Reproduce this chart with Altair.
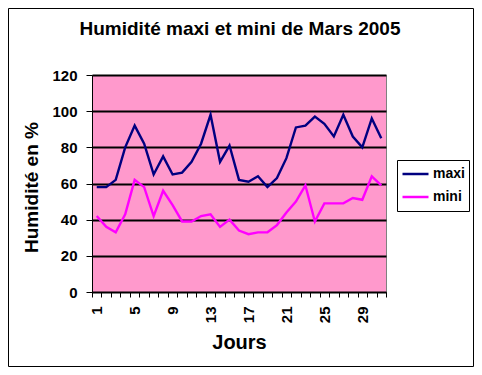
import altair as alt
import pandas as pd

jours = list(range(1, 32))
maxi = [58, 58, 62, 80, 92, 82, 65, 75, 65, 66, 72, 82, 98, 72, 81, 62,
        61, 64, 58, 63, 74, 91, 92, 97, 93, 86, 98, 86, 80, 96, 85]
mini = [42, 36, 33, 43, 62, 58, 42, 56, 48, 39, 39, 42, 43, 36, 40, 34,
        32, 33, 33, 37, 44, 50, 59, 39, 49, 49, 49, 52, 51, 64, 59]
series = ["maxi", "mini"]
colors = ["#000080", "#FF00FF"]
titre = ["Humidité maxi et mini de Mars 2005"]

df = pd.DataFrame({
    "jour": jours * 2,
    "val": maxi + mini,
    "serie": ["maxi"] * len(jours) + ["mini"] * len(jours),
})

FONT = "Liberation Sans"
W, H = 294, 217

lines = alt.Chart(df).mark_line(strokeWidth=2.4).encode(
    x=alt.X("jour:O", bandPosition=0.5,
            scale=alt.Scale(type="band", paddingInner=0, paddingOuter=0),
            axis=alt.Axis(title="Jours", labelAngle=-90, labelAlign="right",
                          labelBaseline="middle", labelPadding=9,
                          labelExpr="(datum.value - 1) % 4 == 0 ? datum.label : ''",
                          tickBand="extent", tickSize=5, tickColor="black",
                          domainColor="black", labelFont=FONT, labelFontSize=15,
                          labelFontWeight="bold", labelColor="black",
                          titleFont=FONT, titleFontSize=20, titleFontWeight="bold",
                          titleColor="black", titleX=147, titleY=56,
                          titleBaseline="alphabetic", grid=False)),
    y=alt.Y("val:Q",
            scale=alt.Scale(domain=[0, 120], nice=False),
            axis=alt.Axis(title="Humidité en %", values=[0, 20, 40, 60, 80, 100, 120],
                          tickSize=6, tickColor="black", domainColor="black",
                          labelFont=FONT, labelFontSize=15, labelFontWeight="bold",
                          labelColor="black", labelPadding=9,
                          titleFont=FONT, titleFontSize=19, titleFontWeight="bold",
                          titleColor="black", titleX=-55, titleY=112,
                          titleBaseline="alphabetic",
                          grid=True, gridColor="black", gridWidth=2)),
    color=alt.Color("serie:N",
                    scale=alt.Scale(domain=series, range=colors),
                    legend=alt.Legend(title=None, orient="none", legendX=305, legendY=85,
                                      strokeColor="black", fillColor="white",
                                      padding=4, symbolType="stroke", symbolSize=676,
                                      symbolStrokeWidth=2.5, labelFont=FONT,
                                      labelFontSize=14, labelFontWeight="bold",
                                      labelColor="black", labelOffset=3,
                                      clipHeight=20, rowPadding=3)),
)

title = alt.Chart(pd.DataFrame({"t": titre})).mark_text(
    font=FONT, fontSize=19, fontWeight="bold", color="black",
    align="center", baseline="alphabetic"
).encode(text="t:N", x=alt.value(148), y=alt.value(-40))

border = alt.Chart(pd.DataFrame({"t": titre})).mark_rect(
    fill="transparent", stroke="black", strokeWidth=1
).encode(x=alt.value(-83.5), x2=alt.value(381.5), y=alt.value(-66.5), y2=alt.value(291.5))

chart = alt.layer(border, title, lines).properties(
    width=W, height=H,
    autosize=alt.AutoSizeParams(type="none"),
    padding={"left": 84, "top": 67, "right": 88, "bottom": 75},
    background="white",
).configure_view(fill="#FF99CC", stroke="#808080", strokeWidth=1)

chart.save("out.html", embed_options={"renderer": "svg", "actions": False})
